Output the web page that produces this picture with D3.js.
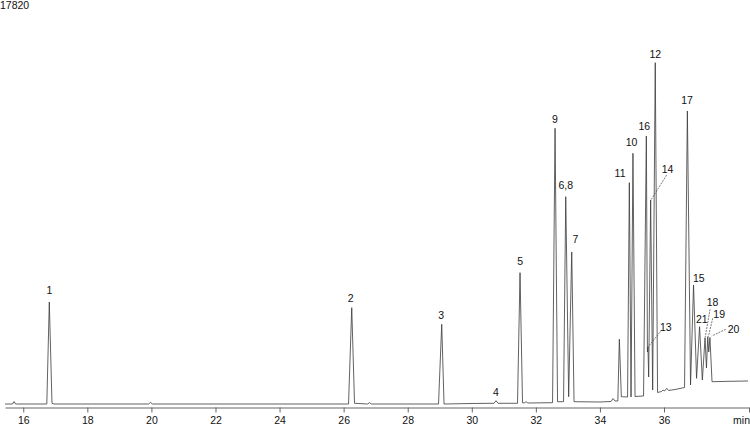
<!DOCTYPE html>
<html>
<head>
<meta charset="utf-8">
<script src="https://cdn.jsdelivr.net/npm/d3@7"></script>
<style>
  html, body { margin: 0; padding: 0; background: #fff; }
  svg { display: block; font-family: 'Liberation Sans', Arial, sans-serif; }
</style>
</head>
<body>
<div id="chart"></div>
<script>
// Retention time (min) and detector signal
const traceTime = [
  15.430, 15.664, 15.711, 15.758, 16.735, 16.813, 16.897, 16.960,
  19.910, 19.972, 20.034,
  26.153, 26.253, 26.340, 26.746, 26.808, 26.870,
  28.962, 29.062, 29.134, 30.008,
  30.694, 30.756, 30.819,
  31.428, 31.506, 31.584, 31.647, 31.694, 31.740,
  32.521, 32.599, 32.677, 32.864, 32.933, 33.024, 33.120, 33.192,
  34.003, 34.347, 34.409, 34.472, 34.559, 34.606, 34.668,
  34.862, 34.918, 34.971, 35.031, 35.096,
  35.361, 35.449, 35.483, 35.499, 35.521, 35.583, 35.646, 35.727, 35.799,
  35.923, 35.970, 36.017, 36.086, 36.142, 36.345, 36.641,
  36.729, 36.828, 36.922, 37.016, 37.110, 37.197,
  37.281, 37.325, 37.365, 37.397, 37.434, 37.499,
  38.061, 38.623
];
const traceSignal = [
  0, 0, 114, 0, 0, 4637, 32, 0,
  0, 68, 0,
  0, 4378, 32, 0, 59, 0,
  0, 3623, 0, 23,
  32, 150, 32,
  32, 5969, 59, 45, 114, 45,
  59, 12533, 105, 105, 9424, 332, 6910, 105,
  91, 114, 250, 136, 136, 2946, 332,
  318, 10060, 318, 11397, 341,
  364, 12183, 2364, 2591, 1227, 9274, 636, 15516, 523,
  568, 636, 591, 714, 614, 659, 750,
  13320, 864, 5410, 1168, 3514, 1091,
  3000, 1637, 3060, 2364, 3023, 1014,
  1032, 1046
];

// Labelled peaks (apex time / signal)
const peakNames  = ['1', '2', '3', '4', '5', '9', '6,8', '7', '11', '10', '16', '13', '14', '12', '17', '15', '21', '18', '19', '20'];
const peakTime   = [16.813, 26.253, 29.062, 30.756, 31.506, 32.599, 32.933, 33.120, 34.918, 35.031, 35.449, 35.499, 35.583, 35.727, 36.729, 36.922, 37.110, 37.281, 37.365, 37.434];
const peakSignal = [4637, 4378, 3623, 150, 5969, 12533, 9424, 6910, 10060, 11397, 12183, 2591, 9274, 15516, 13320, 5410, 3514, 3000, 3060, 3023];

const xTicks = [16, 18, 20, 22, 24, 26, 28, 30, 32, 34, 36];
const yMax = 17820;
const xDomain = [15.43, 38.653];

const W = 750, H = 427;
const axisY = 407.5;

// label placement relative to the apex (px); leader = dashed line to the apex
const labelPlace = {
  '1':   { dx: 0,    dy: -8 },
  '2':   { dx: -1,   dy: -6 },
  '3':   { dx: -0.5, dy: -5 },
  '4':   { dx: 0,    dy: -5 },
  '5':   { dx: 0.2,  dy: -7.7 },
  '9':   { dx: 0,    dy: -5.6 },
  '6,8': { dx: 0.1,  dy: -7.4 },
  '7':   { dx: 3.8,  dy: -8.7 },
  '11':  { dx: -9.3, dy: -5.7 },
  '10':  { dx: -1.4, dy: -7.3 },
  '16':  { dx: -2.1, dy: -6 },
  '12':  { dx: 0,    dy: -4.4 },
  '17':  { dx: -0.3, dy: -6.7 },
  '15':  { dx: 5.3,  dy: -2.7 },
  '21':  { dx: 2.2,  dy: -3.4 },
  '13':  { dx: 12,   dy: -16,  anchor: 'start', leader: [13.8, -17, 0, 0] },
  '14':  { dx: 11,   dy: -27,  anchor: 'start', leader: [16, -25, 0, 0.5] },
  '18':  { dx: 1.7,  dy: -32,  anchor: 'start', leader: [5, -28.7, 0, 0] },
  '19':  { dx: 5.6,  dy: -18.2, anchor: 'start', leader: [5, -18.4, 0.6, 0] },
  '20':  { dx: 17.8, dy: -4.5, anchor: 'start', leader: [15.8, -8.2, 1.8, -1.5] }
};

const svg = d3.select('#chart').append('svg')
  .attr('width', W)
  .attr('height', H);

const x = d3.scaleLinear().domain(xDomain).range([5, 749]);
const y = d3.scaleLinear().domain([0, yMax]).range([404, 12]);

// Axis
const tickVals = [...xTicks, xDomain[1]];
const axis = svg.append('g')
  .attr('transform', `translate(0,${axisY})`)
  .call(d3.axisBottom(x)
    .tickValues(tickVals)
    .tickSize(5)
    .tickSizeOuter(0)
    .tickPadding(4.5)
    .tickFormat(d => d === xDomain[1] ? 'min' : d3.format('d')(d)));
axis.select('.domain').attr('stroke', '#666').attr('stroke-width', 1);
axis.selectAll('.tick line').attr('stroke', '#666');
axis.selectAll('.tick text')
  .attr('fill', '#111')
  .style('font-size', '10.5px')
  .style('font-family', "'Liberation Sans', Arial, sans-serif");
axis.selectAll('.tick').filter(d => d === xDomain[1])
  .select('text').attr('text-anchor', 'end').attr('x', 0.5);

// Y max label
svg.append('text')
  .attr('x', 0)
  .attr('y', 9.3)
  .attr('fill', '#111')
  .style('font-size', '10.5px')
  .text(d3.format('d')(yMax));

// Trace
const pts = traceTime.map((t, i) => [t, traceSignal[i]]);
svg.append('path')
  .datum(pts)
  .attr('fill', 'none')
  .attr('stroke', '#3a3a3a')
  .attr('stroke-width', 0.8)
  .attr('stroke-linejoin', 'round')
  .attr('d', d3.line().x(d => x(d[0])).y(d => y(d[1])));

// Peak labels
const peaks = peakNames.map((n, i) => ({ name: n, t: peakTime[i], s: peakSignal[i], p: labelPlace[n] }));

svg.selectAll('.leader').data(peaks.filter(d => d.p.leader))
  .join('line').attr('class', 'leader')
  .attr('x1', d => x(d.t) + d.p.leader[0])
  .attr('y1', d => y(d.s) + d.p.leader[1])
  .attr('x2', d => x(d.t) + d.p.leader[2])
  .attr('y2', d => y(d.s) + d.p.leader[3])
  .attr('stroke', '#444')
  .attr('stroke-width', 0.7)
  .attr('stroke-dasharray', '2,1');

svg.selectAll('.peak-label').data(peaks)
  .join('text').attr('class', 'peak-label')
  .attr('x', d => x(d.t) + d.p.dx)
  .attr('y', d => y(d.s) + d.p.dy)
  .attr('text-anchor', d => d.p.anchor || 'middle')
  .attr('fill', '#111')
  .style('font-size', '10.5px')
  .text(d => d.name);
</script>
</body>
</html>
